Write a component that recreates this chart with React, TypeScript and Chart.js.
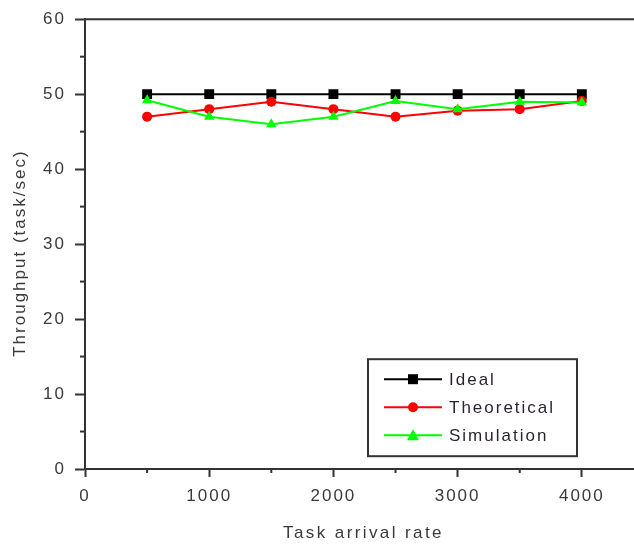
import React, { useEffect, useRef } from "react";
import { Chart, registerables } from "chart.js";

Chart.register(...registerables);

const arrivalRates = [500, 1000, 1500, 2000, 2500, 3000, 3500, 4000];
const idealValues = [50, 50, 50, 50, 50, 50, 50, 50];
const theoreticalValues = [47, 48, 49, 48, 47, 47.8, 48, 49.1];
const simulationValues = [49.2, 47, 46, 47, 49.1, 48, 49, 48.9];
const seriesNames = ["Ideal", "Theoretical", "Simulation"];
const seriesColors = ["#000000", "#ff0000", "#00ff00"];
const seriesMarkers = ["rect", "circle", "triangle"];
const xMajorTicks = [0, 1000, 2000, 3000, 4000];
const xMinorTicks = [500, 1500, 2500, 3500];
const yMajorTicks = [0, 10, 20, 30, 40, 50, 60];
const yMinorTicks = [5, 15, 25, 35, 45, 55];
const xTitle = "Task arrival rate";
const yTitle = "Throughput (task/sec)";

const FONT = "'Liberation Sans', Arial, sans-serif";
const AXIS = "#333333";
const TEXT = "#3a3a3a";
const SPACING = "2px";

const toXY = (vals: number[]) => vals.map((v, i) => ({ x: arrivalRates[i], y: v }));

const decorPlugin = {
  id: "decor",
  beforeDraw(chart: any) {
    chart.ctx.letterSpacing = SPACING;
  },
  afterDraw(chart: any) {
    const ctx = chart.ctx;
    const { left, top, right, bottom } = chart.chartArea;
    const xs = chart.scales.x;
    const ys = chart.scales.y;
    ctx.save();
    ctx.strokeStyle = AXIS;
    ctx.lineWidth = 2;
    ctx.beginPath();
    ctx.moveTo(left, top);
    ctx.lineTo(right, top);
    ctx.stroke();
    xMinorTicks.forEach((v) => {
      const px = xs.getPixelForValue(v);
      ctx.beginPath();
      ctx.moveTo(px, bottom);
      ctx.lineTo(px, bottom + 4);
      ctx.stroke();
    });
    yMinorTicks.forEach((v) => {
      const py = ys.getPixelForValue(v);
      ctx.beginPath();
      ctx.moveTo(left, py);
      ctx.lineTo(left - 5, py);
      ctx.stroke();
    });
    // axis titles
    ctx.font = `17px ${FONT}`;
    ctx.fillStyle = TEXT;
    ctx.textAlign = "center";
    ctx.textBaseline = "middle";
    ctx.letterSpacing = "2.4px";
    ctx.fillText(xTitle, (left + right) / 2 + 4, bottom + 64);
    ctx.letterSpacing = SPACING;
    ctx.save();
    ctx.translate(20, (top + bottom) / 2 + 9);
    ctx.rotate(-Math.PI / 2);
    ctx.fillText(yTitle, 0, 0);
    ctx.restore();
    // legend
    const bx = left + 283;
    const by = top + 340;
    const bw = 209;
    const bh = 97;
    ctx.fillStyle = "#ffffff";
    ctx.fillRect(bx, by, bw, bh);
    ctx.strokeStyle = AXIS;
    ctx.lineWidth = 2;
    ctx.strokeRect(bx, by, bw, bh);
    ctx.font = `17px ${FONT}`;
    ctx.letterSpacing = SPACING;
    ctx.textBaseline = "middle";
    ctx.textAlign = "left";
    seriesNames.forEach((name, i) => {
      const ry = by + 20 + i * 28;
      const lx0 = bx + 16;
      const lx1 = bx + 74;
      ctx.strokeStyle = seriesColors[i];
      ctx.lineWidth = 2;
      ctx.beginPath();
      ctx.moveTo(lx0, ry);
      ctx.lineTo(lx1, ry);
      ctx.stroke();
      const mx = (lx0 + lx1) / 2;
      ctx.fillStyle = seriesColors[i];
      ctx.beginPath();
      if (seriesMarkers[i] === "rect") {
        ctx.rect(mx - 5, ry - 5, 10, 10);
      } else if (seriesMarkers[i] === "circle") {
        ctx.arc(mx, ry, 5, 0, Math.PI * 2);
      } else {
        ctx.moveTo(mx, ry - 6);
        ctx.lineTo(mx + 6, ry + 5);
        ctx.lineTo(mx - 6, ry + 5);
        ctx.closePath();
      }
      ctx.fill();
      ctx.fillStyle = "#2a1f33";
      ctx.fillText(name, bx + 81, ry + 1);
    });
    ctx.restore();
  },
};

export default function App() {
  const ref = useRef<HTMLCanvasElement | null>(null);
  useEffect(() => {
    if (!ref.current) return;
    const values = [idealValues, theoreticalValues, simulationValues];
    const chart = new Chart(ref.current, {
      type: "line",
      data: {
        datasets: seriesNames.map((name, i) => ({
          label: name,
          data: toXY(values[i]),
          borderColor: seriesColors[i],
          backgroundColor: seriesColors[i],
          borderWidth: 2,
          pointStyle: seriesMarkers[i] as any,
          pointRadius: i === 0 ? 7 : i === 1 ? 5 : 6,
          pointBorderWidth: 0,
          tension: 0,
          order: 2 - i,
        })),
      },
      options: {
        responsive: false,
        animation: false,
        layout: { autoPadding: false, padding: { left: 0, top: 14, right: 0, bottom: 0 } },
        plugins: { legend: { display: false }, tooltip: { enabled: false } },
        scales: {
          x: {
            type: "linear",
            min: 0,
            max: 4420,
            afterFit: (s: any) => {
              s.height = 77;
              s.paddingRight = 0;
              s.paddingLeft = 0;
            },
            afterBuildTicks: (s: any) => {
              s.ticks = xMajorTicks.map((v) => ({ value: v }));
            },
            ticks: {
              color: TEXT,
              font: { family: FONT, size: 17 },
              padding: 9,
              maxRotation: 0,
              autoSkip: false,
              callback: (v: any) => String(v),
            },
            grid: {
              display: true,
              drawOnChartArea: false,
              drawTicks: true,
              tickLength: 8,
              tickColor: AXIS,
              tickWidth: 2,
            },
            border: { display: true, color: AXIS, width: 2 },
            title: { display: false },
          },
          y: {
            type: "linear",
            min: 0,
            max: 60,
            afterFit: (s: any) => {
              s.width = 85;
            },
            afterBuildTicks: (s: any) => {
              s.ticks = yMajorTicks.map((v) => ({ value: v }));
            },
            ticks: {
              color: TEXT,
              font: { family: FONT, size: 17 },
              padding: 9,
              autoSkip: false,
              callback: (v: any) => String(v),
            },
            grid: {
              display: true,
              drawOnChartArea: false,
              drawTicks: true,
              tickLength: 10,
              tickColor: AXIS,
              tickWidth: 2,
            },
            border: { display: true, color: AXIS, width: 2 },
            title: { display: false },
          },
        },
      },
      plugins: [decorPlugin],
    } as any);
    return () => chart.destroy();
  }, []);
  return (
    <div style={{ position: "fixed", left: 0, top: 0, width: 634, height: 546, background: "#fff" }}>
      <canvas ref={ref} width={634} height={546} style={{ display: "block", width: 634, height: 546 }} />
    </div>
  );
}
